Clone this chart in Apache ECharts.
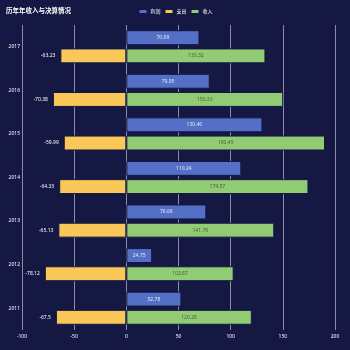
<!DOCTYPE html>
<html>
<head>
    <meta charset="utf-8">
    <title>历年年收入与决算情况</title>
    <script src="https://cdn.jsdelivr.net/npm/echarts@6/dist/echarts.min.js"></script>
    <style>
        html, body { margin: 0; padding: 0; background: #141843; }
        #chart { width: 350px; height: 350px; }
    </style>
</head>
<body>
    <div id="chart"></div>
    <script>
        const years = ['2011', '2012', '2013', '2014', '2015', '2016', '2017'];
        const profit = [52.78, 24.75, 76.66, 110.24, 130.46, 79.95, 70.09];
        const expense = [-67.5, -78.12, -65.13, -64.33, -59.99, -70.38, -63.23];
        const income = [120.28, 102.87, 141.79, 174.57, 190.45, 150.33, 133.32];

        const chart = echarts.init(document.getElementById('chart'));

        const labelBase = { show: true, fontSize: 5, fontFamily: 'Noto Sans' };

        chart.setOption({
            backgroundColor: '#141843',
            title: {
                text: '历年年收入与决算情况',
                left: 1,
                top: 2,
                textStyle: { color: '#fff', fontSize: 6.5, fontWeight: 'bold', fontFamily: 'Noto Sans CJK SC' }
            },
            legend: {
                data: ['利润', '支出', '收入'],
                top: 3,
                left: 'center',
                itemWidth: 9,
                itemHeight: 5,
                itemGap: 3,
                textStyle: { color: '#fff', fontSize: 5, padding: [0, 0, 0, -2], fontFamily: 'Noto Sans CJK SC' }
            },
            grid: {
                left: 22,
                right: 15,
                top: 25,
                bottom: 20
            },
            xAxis: {
                type: 'value',
                min: -100,
                max: 200,
                interval: 50,
                axisLine: { show: false },
                axisTick: { show: false },
                axisLabel: { color: '#fff', fontSize: 5, margin: 4, fontFamily: 'Noto Sans' },
                splitLine: { lineStyle: { color: '#8a8ca8', width: 1 } }
            },
            yAxis: {
                type: 'category',
                data: years,
                axisLine: { show: false },
                axisTick: { show: false },
                axisLabel: { color: '#fff', fontSize: 5, margin: 2, fontFamily: 'Noto Sans' }
            },
            series: [
                {
                    name: '利润',
                    type: 'bar',
                    data: profit,
                    barGap: '22%',
                    barCategoryGap: '24%',
                    itemStyle: { color: '#5470c6', borderColor: '#141843', borderWidth: 1 },
                    label: Object.assign({}, labelBase, { position: 'inside', color: '#e8e8f0' })
                },
                {
                    name: '支出',
                    type: 'bar',
                    stack: '总量',
                    data: expense,
                    itemStyle: { color: '#fac858', borderColor: '#141843', borderWidth: 1 },
                    label: Object.assign({}, labelBase, { position: 'left', color: '#fff' })
                },
                {
                    name: '收入',
                    type: 'bar',
                    stack: '总量',
                    data: income,
                    itemStyle: { color: '#91cc75', borderColor: '#141843', borderWidth: 1 },
                    label: Object.assign({}, labelBase, { position: 'inside', color: '#4a5a3a' })
                }
            ]
        });
    </script>
</body>
</html>
